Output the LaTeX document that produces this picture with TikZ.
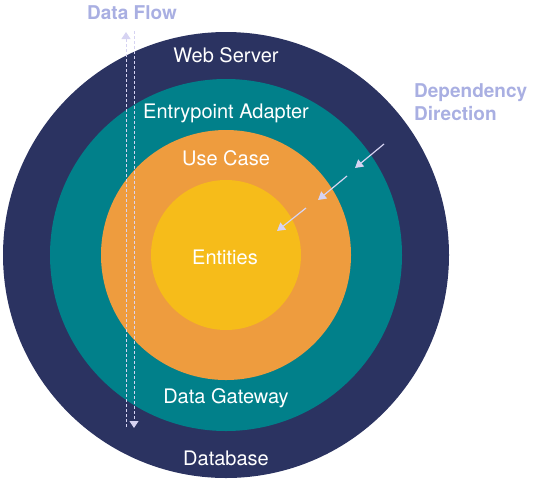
\documentclass[tikz,border=0pt]{standalone}
\usepackage{fontspec}
\setmainfont{TeX Gyre Heros}
\usetikzlibrary{arrows.meta}
\definecolor{navy}{HTML}{2B3361}
\definecolor{teal}{HTML}{01808A}
\definecolor{orng}{HTML}{EE9C3E}
\definecolor{yel}{HTML}{F6BC1A}
\definecolor{lav}{HTML}{A9AFE2}
\definecolor{lavline}{HTML}{D6D3F2}
\begin{document}
\begin{tikzpicture}[x=1pt,y=-1pt,
  ring/.style={circle,inner sep=0pt,minimum size=#1},
  lbl/.style={text=white,font=\fontsize{20}{24}\selectfont},
  side/.style={text=lav,font=\fontsize{19}{23}\selectfont\bfseries},
  flow/.style={draw=lavline,line width=1pt,dashed,dash pattern=on 3pt off 2pt,-{Triangle[length=7pt,width=9pt]}},
  dep/.style={draw=lavline,line width=1.2pt,-{Triangle[length=8pt,width=9pt]}}]
\useasboundingbox (0,0) rectangle (534,480);
\node[ring=446pt,fill=navy] (outer) at (226,255) {};
\node[ring=352pt,fill=teal] (adapter) at (226,255) {};
\node[ring=250pt,fill=orng] (usecase) at (226,255) {};
\node[ring=150pt,fill=yel] (entities) at (226,255) {};
\node[lbl] (ws) at (226,55) {Web Server};
\node[lbl] (ea) at (226,113) {Entrypoint Adapter};
\node[lbl] (uc) at (226,158) {Use Case};
\node[lbl] (en) at (225,257) {Entities};
\node[lbl] (dg) at (226,398) {Data Gateway};
\node[lbl] (db) at (226,458) {Database};
\node[side] (df) at (132,13) {Data Flow};
\node[side,align=left,anchor=north west,inner sep=0pt] (dd) at (414,83) {Dependency\\Direction};
\coordinate (u1) at (126,427);
\coordinate (u2) at (126,32);
\coordinate (d1) at (134,31);
\coordinate (d2) at (134,428);
\draw[flow] (u1) -- (u2);
\draw[flow] (d1) -- (d2);
\coordinate (a1) at (384,144);
\coordinate (a2) at (355,168);
\coordinate (b1) at (347,176);
\coordinate (b2) at (318,200);
\coordinate (c1) at (306,208);
\coordinate (c2) at (277,231);
\draw[dep] (a1) -- (a2);
\draw[dep] (b1) -- (b2);
\draw[dep] (c1) -- (c2);
\end{tikzpicture}
\end{document}
